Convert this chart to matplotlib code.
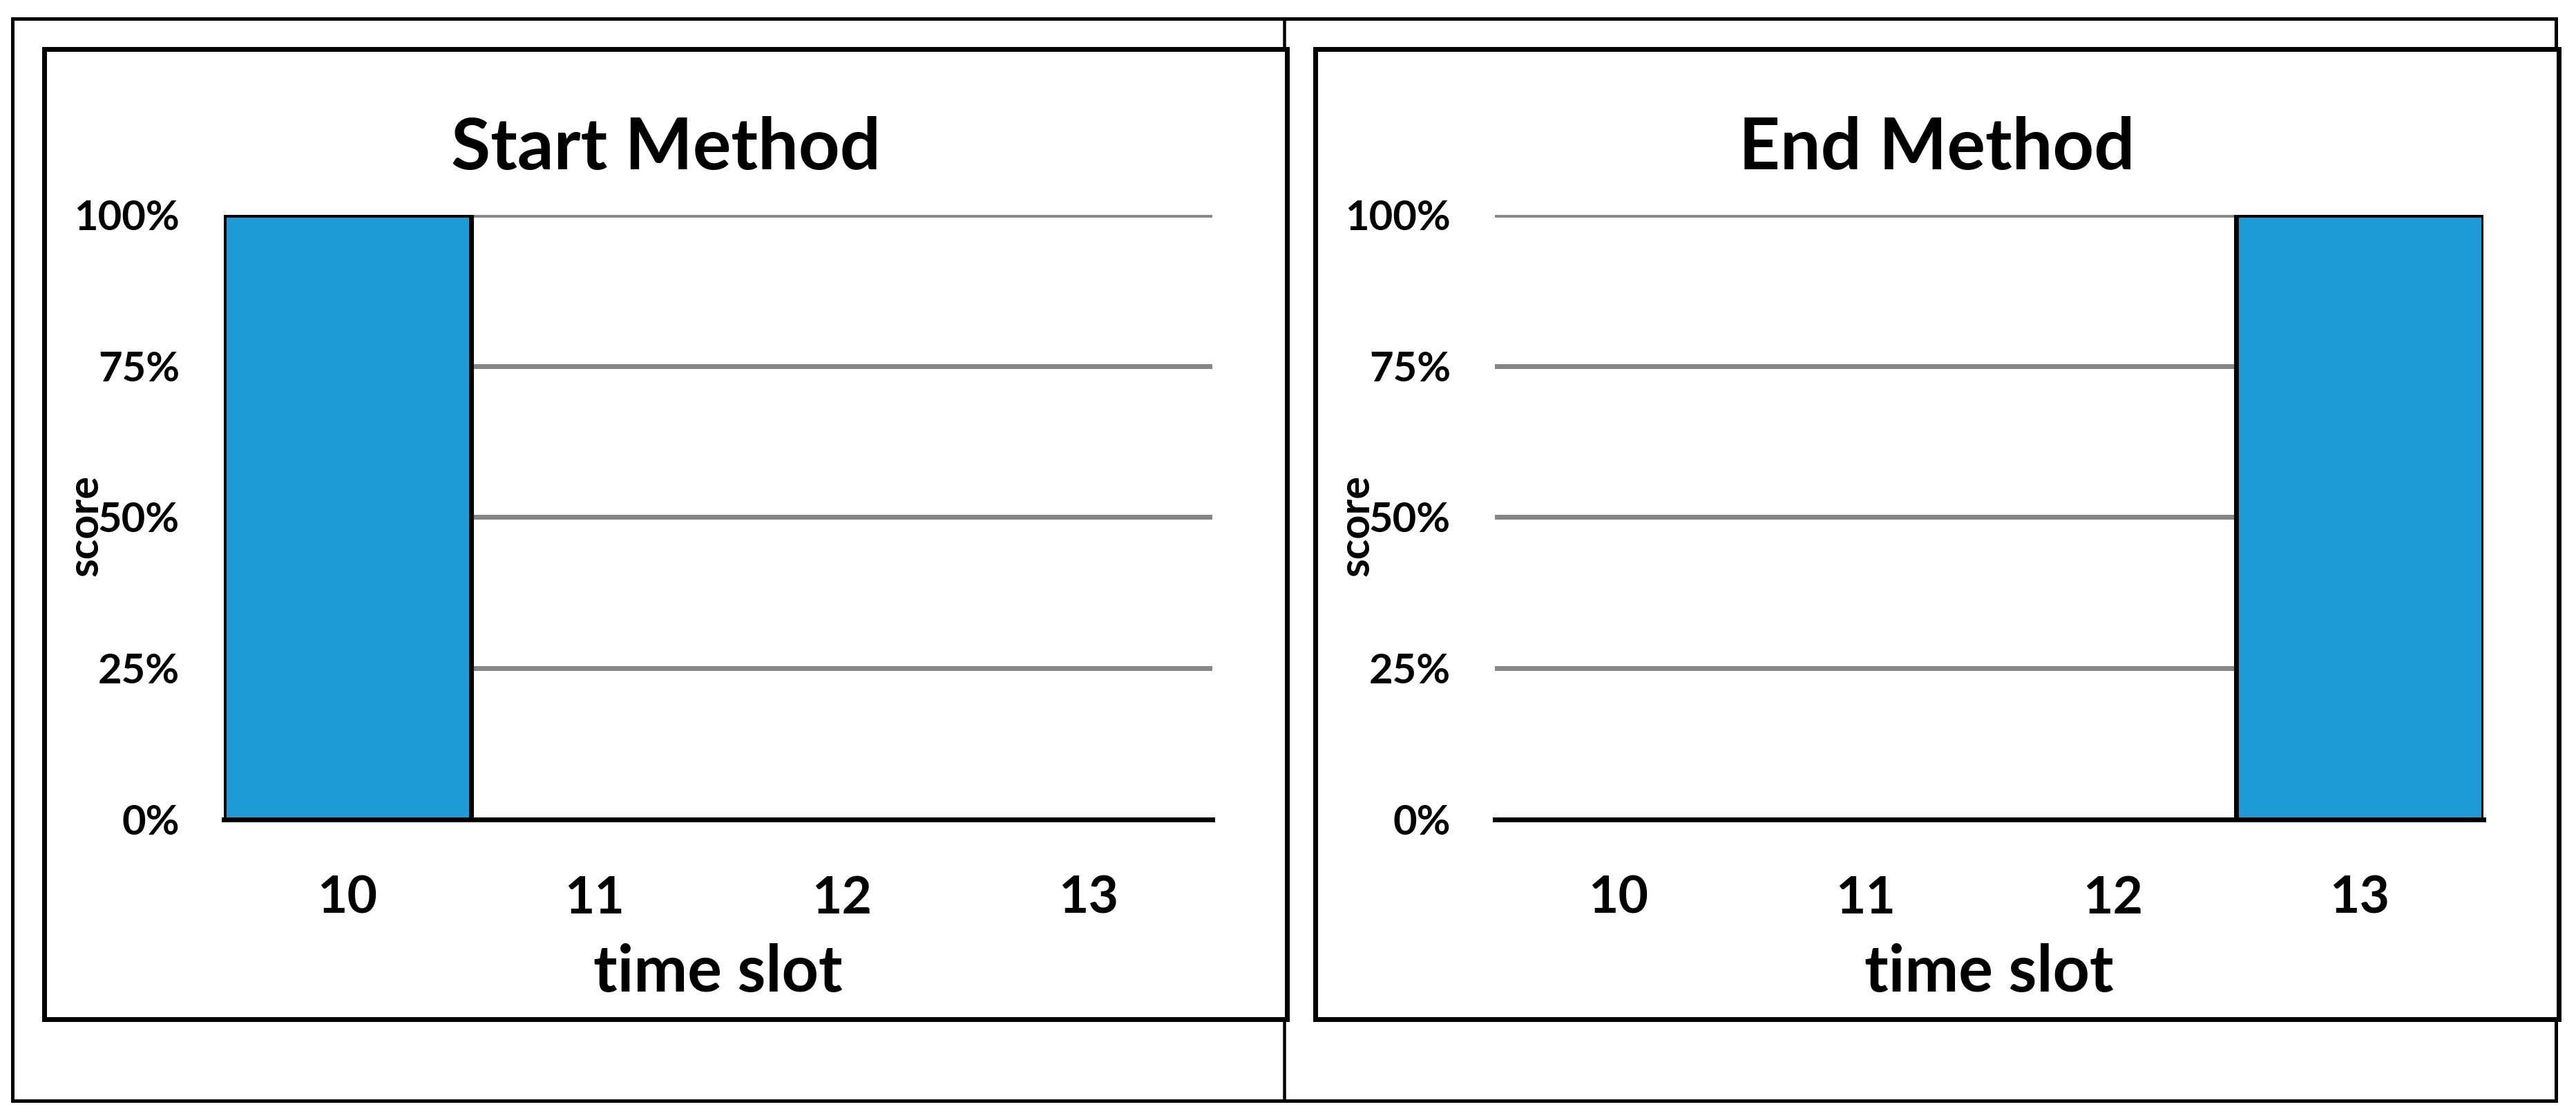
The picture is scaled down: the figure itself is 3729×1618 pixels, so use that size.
import matplotlib
matplotlib.use("Agg")
import matplotlib.pyplot as plt
from matplotlib.patches import Rectangle
from matplotlib.lines import Line2D

# ---- data ----
categories = ["10", "11", "12", "13"]
start_scores = [1.0, 0.0, 0.0, 0.0]
end_scores = [0.0, 0.0, 0.0, 1.0]
titles = ["Start Method", "End Method"]
y_ticks = [0.0, 0.25, 0.5, 0.75, 1.0]
y_tick_labels = ["0%", "25%", "50%", "75%", "100%"]
x_label = "time slot"
y_label = "score"

W, H = 3729, 1618
DPI = 100
plt.rcParams["font.family"] = ["Lato", "DejaVu Sans"]
plt.rcParams["font.weight"] = "bold"

fig = plt.figure(figsize=(W / DPI, H / DPI), dpi=DPI)
fig.patch.set_facecolor("white")

def fx(x):
    return x / W

def fy(y):
    return 1 - y / H

def pt(px):
    return px * 72.0 / DPI

# outer frame with divider
fig.add_artist(Rectangle((fx(18), fy(1593)), fx(3700) - fx(18), fy(27) - fy(1593),
                         transform=fig.transFigure, fill=False, edgecolor="black",
                         linewidth=pt(5), zorder=0))
fig.add_artist(Line2D([fx(1859), fx(1859)], [fy(27), fy(1593)], transform=fig.transFigure,
                      color="black", linewidth=pt(4.5), zorder=0))

boxes = [(64, 1863), (1904, 3704)]
plot_lefts = [324, 2164]
plot_w = 1431
plot_top, plot_bot = 311, 1186
series = [start_scores, end_scores]
blue = "#1E9BD7"
grid_gray = "#868686"

for i in range(2):
    bx0, bx1 = boxes[i]
    # inner box (white fill covers divider)
    fig.add_artist(Rectangle((fx(bx0), fy(1475)), fx(bx1) - fx(bx0), fy(71) - fy(1475),
                             transform=fig.transFigure, facecolor="white", edgecolor="black",
                             linewidth=pt(7), zorder=1))
    ax = fig.add_axes([fx(plot_lefts[i]), fy(plot_bot), plot_w / W, (plot_bot - plot_top) / H])
    ax.set_zorder(2)
    ax.patch.set_alpha(0)
    xs = list(range(len(categories)))
    ax.bar(xs, series[i], width=1.0, color=blue, edgecolor="black", linewidth=pt(7), zorder=3)
    for t in y_ticks[1:]:
        ax.axhline(t, color=grid_gray, linewidth=pt(7), zorder=1)
    ax.set_xlim(-0.5, len(categories) - 0.5)
    ax.set_ylim(0, 1)
    ax.set_xticks(xs)
    ax.set_xticklabels(categories, fontsize=54, fontweight="bold")
    ax.set_yticks(y_ticks)
    ax.set_yticklabels(y_tick_labels, fontsize=43, fontweight="bold")
    ax.tick_params(axis="x", length=0, pad=pt(80))
    ax.tick_params(axis="y", length=0, pad=pt(64))
    for s in ["top", "right", "left"]:
        ax.spines[s].set_visible(False)
    ax.spines["bottom"].set_linewidth(pt(7))
    ax.spines["bottom"].set_zorder(4)
    ax.set_xlabel(x_label, fontsize=67, fontweight="bold")
    ax.xaxis.label.set_va("baseline")
    ax.xaxis.set_label_coords(0.5, (plot_bot - 1435) / (plot_bot - plot_top))
    ax.set_ylabel(y_label, fontsize=44, fontweight="bold")
    ax.yaxis.label.set_va("center")
    ax.yaxis.set_label_coords(-200 / plot_w, (plot_bot - 761) / (plot_bot - plot_top))
    # title centered over the box
    fig.text(fx((bx0 + bx1) / 2), fy(245), titles[i], ha="center", va="baseline",
             fontsize=75, fontweight="bold", zorder=5)

fig.savefig("out.png", dpi=DPI, facecolor="white")
